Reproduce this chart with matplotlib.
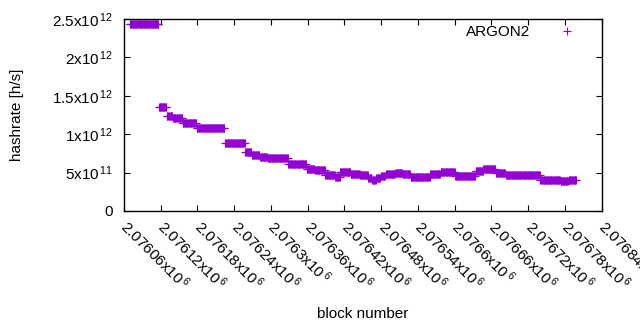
import numpy as np
import matplotlib
matplotlib.use('Agg')
import matplotlib.pyplot as plt

plt.rcParams['font.family'] = ['Liberation Sans', 'DejaVu Sans']
plt.rcParams['mathtext.fontset'] = 'custom'
plt.rcParams['mathtext.rm'] = 'Liberation Sans'

# hashrate is constant between retarget blocks: segment start block + value
seg_start = [2076069, 2076117, 2076130, 2076140, 2076156, 2076179, 2076225,
             2076258, 2076269, 2076282, 2076295, 2076328, 2076358, 2076372,
             2076389, 2076405, 2076413, 2076430, 2076446, 2076459, 2076465,
             2076472, 2076479, 2076487, 2076503, 2076515, 2076528, 2076544,
             2076560, 2076577, 2076601, 2076618, 2076634, 2076647, 2076667,
             2076683, 2076699, 2076740, 2076773, 2076786]
seg_end = 2076799
seg_value = [2.435, 1.354, 1.237, 1.211, 1.146, 1.081, 0.885,
             0.768, 0.729, 0.700, 0.690, 0.612, 0.547, 0.534,
             0.469, 0.443, 0.508, 0.482, 0.469, 0.430, 0.404,
             0.430, 0.456, 0.482, 0.495, 0.482, 0.443, 0.443,
             0.482, 0.508, 0.456, 0.456, 0.521, 0.547, 0.495,
             0.469, 0.469, 0.404, 0.391, 0.404]

xticks = np.arange(2076060, 2076841, 60)
yticks = [0, 0.5e12, 1e12, 1.5e12, 2e12, 2.5e12]
ytick_labels = ['0', r'$\mathregular{5x10^{\,11}}$', r'$\mathregular{1x10^{\,12}}$',
                r'$\mathregular{1.5x10^{\,12}}$', r'$\mathregular{2x10^{\,12}}$',
                r'$\mathregular{2.5x10^{\,12}}$']

bounds = seg_start + [seg_end]
blocks = np.arange(seg_start[0], seg_end)
counts = np.diff(bounds)
hashrate = np.repeat(np.array(seg_value) * 1e12, counts)

fig = plt.figure(figsize=(6.4, 3.3), dpi=100)
ax = fig.add_axes([124 / 640, 1 - 211 / 330, (601.7 - 124) / 640, (211 - 19) / 330])

ax.plot(blocks, hashrate, '+', color='#9400D3', markersize=5.2, markeredgewidth=0.8,
        label='ARGON2')

ax.set_xlim(xticks[0], xticks[-1])
ax.set_ylim(0, 2.5e12)
ax.set_xticks(xticks)
ax.set_xticklabels([r'$\mathregular{%gx10^{\,6}}$' % (v / 1e6) for v in xticks],
                   rotation=-45, ha='left', va='center', rotation_mode='anchor')
ax.set_yticks(yticks)
ax.set_yticklabels(ytick_labels)
ax.tick_params(direction='in', top=True, right=True, length=4, width=0.8,
               labelsize=11)
ax.tick_params(axis='x', pad=9)
ax.tick_params(axis='y', pad=8)
for s in ax.spines.values():
    s.set_linewidth(1.0)

ax.set_xlabel('block number', fontsize=11, labelpad=10)
ax.set_ylabel('hashrate [h/s]', fontsize=11, labelpad=20)

ax.legend(loc='upper right', bbox_to_anchor=(0.972, 1.0), borderaxespad=0,
          frameon=False, markerfirst=False, fontsize=11,
          handlelength=2, handletextpad=1.42)

fig.savefig('out.png', dpi=100)
